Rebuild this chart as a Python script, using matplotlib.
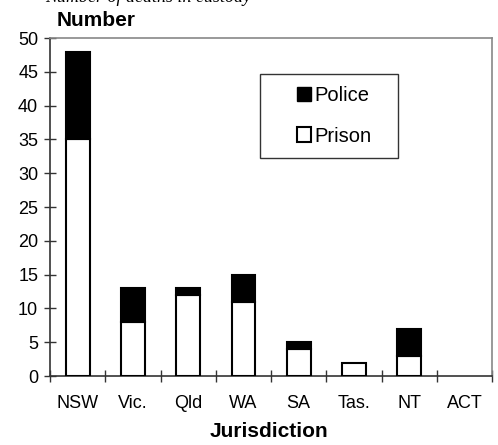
import matplotlib
matplotlib.use("Agg")
import matplotlib.pyplot as plt
import numpy as np
from matplotlib.patches import Patch, Rectangle

plt.rcParams['font.family'] = ['Liberation Sans', 'DejaVu Sans']

categories = ["NSW", "Vic.", "Qld", "WA", "SA", "Tas.", "NT", "ACT"]
prison = [35, 8, 12, 11, 4, 2, 3, 0]
police = [13, 5, 1, 4, 1, 0, 4, 0]
y_ticks = [0, 5, 10, 15, 20, 25, 30, 35, 40, 45, 50]

fig = plt.figure(figsize=(4.98, 4.45), dpi=100)
ax = fig.add_axes([0.1004, 0.155, 0.8876, 0.7596])

x = np.arange(len(categories))
w = 0.43
lw_prison = [1.5 if v > 0 else 0 for v in prison]
lw_police = [1.5 if v > 0 else 0 for v in police]
ax.bar(x, prison, width=w, color='white', edgecolor='black', linewidth=lw_prison, zorder=3)
ax.bar(x, police, width=w, bottom=prison, color='black', edgecolor='black', linewidth=lw_police, zorder=3)

ax.set_xlim(-0.5, len(categories) - 0.5)
ax.set_ylim(0, 50)
ax.set_yticks(y_ticks)
ax.set_yticklabels([str(v) for v in y_ticks], fontsize=13)
ax.set_xticks(x)
ax.set_xticklabels(categories, fontsize=13)
ax.tick_params(axis='x', length=0, pad=14)
ax.set_xticks(np.arange(-0.5, len(categories) - 0.4, 1), minor=True)
ax.tick_params(axis='x', which='minor', direction='inout', length=9, width=1, color='#333333')
ax.tick_params(axis='y', direction='inout', length=9, width=1, color='#333333', pad=4)

for s in ['left', 'bottom']:
    ax.spines[s].set_color('#333333')
    ax.spines[s].set_linewidth(1.2)
for s in ['top', 'right']:
    ax.spines[s].set_color('#888888')
    ax.spines[s].set_linewidth(1.2)

# legend frame
fig.patches.append(Rectangle((260 / 498, 1 - 158 / 445), 138 / 498, 84 / 445,
                             transform=fig.transFigure, facecolor='white',
                             edgecolor='#333333', linewidth=1.0, zorder=4))
handles = [Patch(facecolor='black', edgecolor='black', label='Police'),
           Patch(facecolor='white', edgecolor='black', linewidth=1.5, label='Prison')]
leg = fig.legend(handles=handles, loc='center left', bbox_to_anchor=(297 / 498, 1 - 116 / 445),
                 fontsize=14.5, frameon=False,
                 handlelength=0.7, handleheight=0.7, handletextpad=0.15,
                 labelspacing=1.05, borderpad=0, borderaxespad=0)
leg.set_zorder(5)

fig.text(0.113, 0.955, "Number", fontsize=15, fontweight='bold', ha='left', va='center')
fig.text(0.541, 0.031, "Jurisdiction", fontsize=15, fontweight='bold', ha='center', va='center')
fig.text(0.09, 0.995, "Number of deaths in custody", fontsize=13, style='italic',
         family='Liberation Serif', ha='left', va='baseline')

fig.savefig("out.png", dpi=100)
